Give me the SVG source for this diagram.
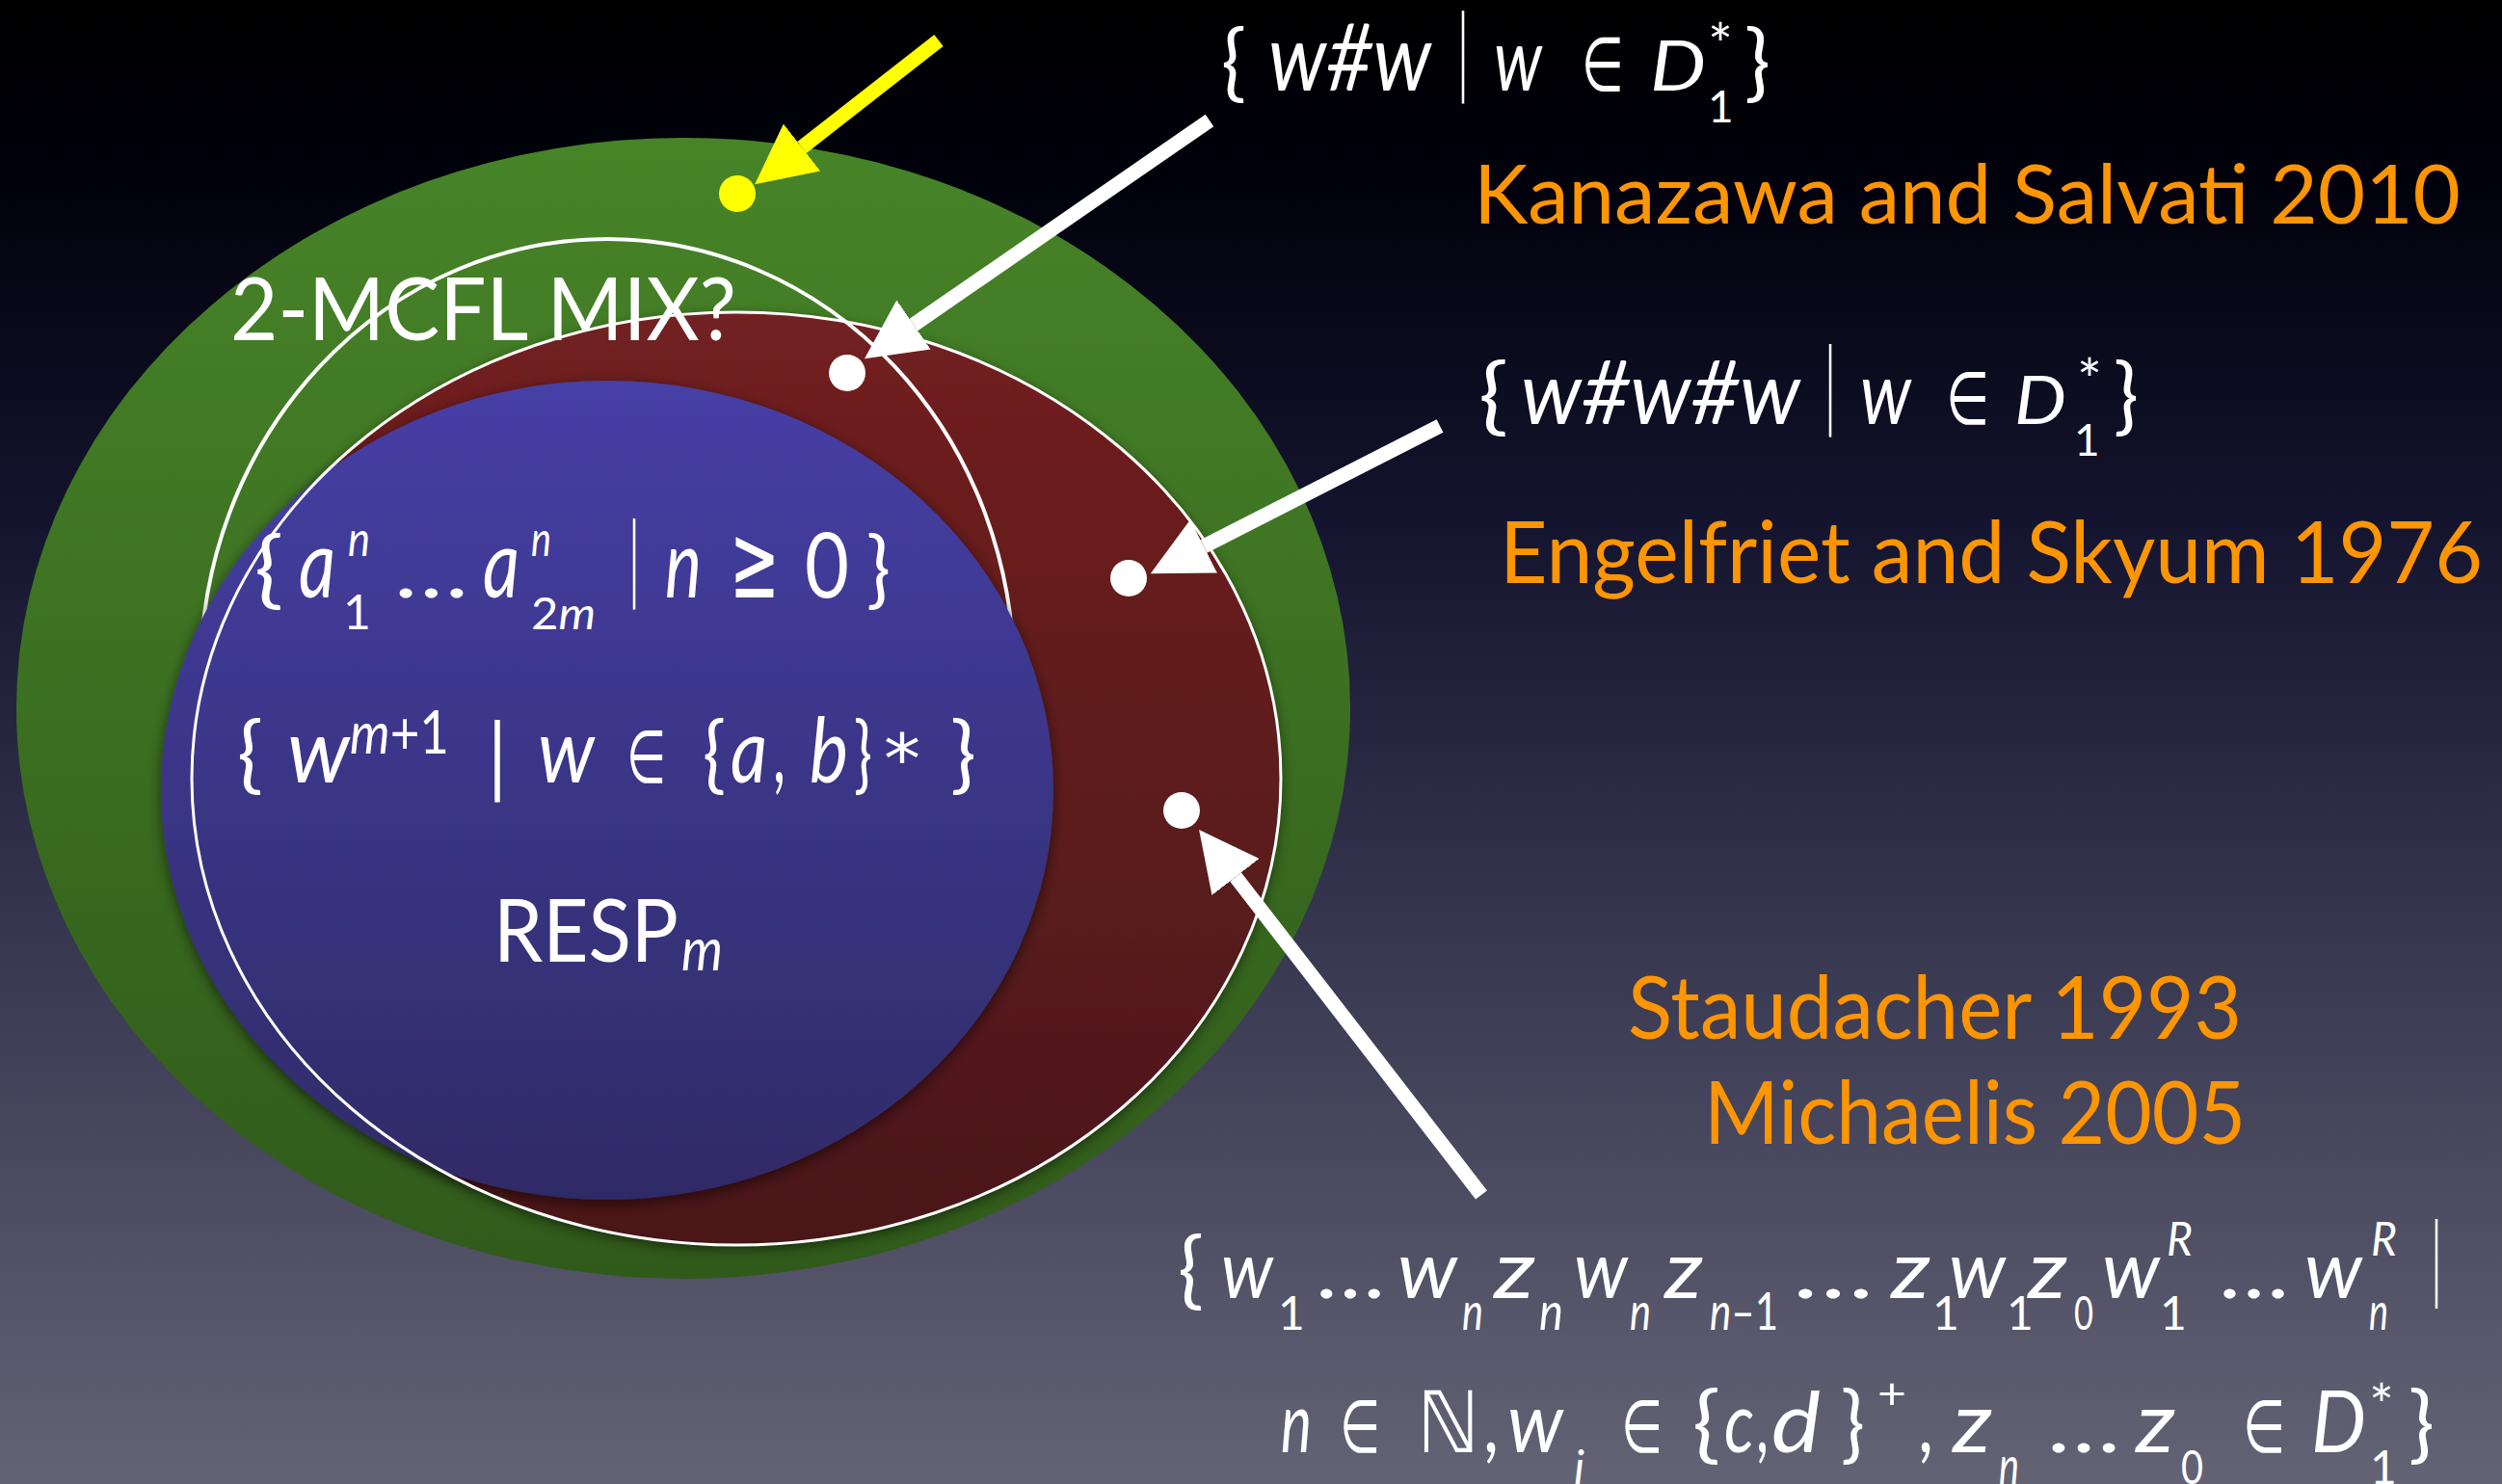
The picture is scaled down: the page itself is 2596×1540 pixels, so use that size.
<svg xmlns="http://www.w3.org/2000/svg" width="2596" height="1540" viewBox="0 0 2596 1540">
<defs>
<linearGradient id="bgG" x1="0" y1="0" x2="0" y2="1">
<stop offset="0" stop-color="#000000"/>
<stop offset="0.12" stop-color="#01010c"/>
<stop offset="0.35" stop-color="#14142e"/>
<stop offset="0.6" stop-color="#33334d"/>
<stop offset="1" stop-color="#646375"/>
</linearGradient>
<linearGradient id="grG" x1="0" y1="0" x2="0" y2="1">
<stop offset="0" stop-color="#478428"/>
<stop offset="1" stop-color="#305a1a"/>
</linearGradient>
<linearGradient id="rdG" x1="0" y1="0" x2="0" y2="1">
<stop offset="0" stop-color="#722020"/>
<stop offset="1" stop-color="#4a1719"/>
</linearGradient>
<linearGradient id="blG" x1="0" y1="0" x2="0" y2="1">
<stop offset="0" stop-color="#463fa6"/>
<stop offset="1" stop-color="#2f2b66"/>
</linearGradient>
<filter id="sh" x="-10%" y="-10%" width="120%" height="120%">
<feDropShadow dx="0" dy="4" stdDeviation="7" flood-color="#000" flood-opacity="0.55"/>
</filter>
<marker id="hw" markerUnits="userSpaceOnUse" viewBox="0 0 62 62" markerWidth="62" markerHeight="62" refX="0" refY="31" orient="auto">
<path d="M0,0 L62,31 L0,62 Z" fill="#ffffff"/>
</marker>
<marker id="hy" markerUnits="userSpaceOnUse" viewBox="0 0 62 62" markerWidth="62" markerHeight="62" refX="0" refY="31" orient="auto">
<path d="M0,0 L62,31 L0,62 Z" fill="#ffff00"/>
</marker>
</defs>
<style>
.t{font-family:Lato,"DejaVu Sans",sans-serif;fill:#fff}
.i{font-style:italic}
.s{font-family:"DejaVu Sans",sans-serif;fill:#fff}
.o{font-family:Lato,"DejaVu Sans",sans-serif;fill:#ff9500}
.wl{stroke:#fff;stroke-width:15;fill:none}
.yl{stroke:#ffff00;stroke-width:15;fill:none}
.dot{fill:#fff}
</style>
<rect id="bg" x="0" y="0" width="2596" height="1540" fill="url(#bgG)"/>

<g id="region-green"><ellipse cx="709" cy="735" rx="692" ry="592" fill="url(#grG)"/></g>
<g id="region-red"><ellipse cx="764" cy="808" rx="565" ry="484" fill="url(#rdG)" filter="url(#sh)"/></g>
<g id="region-2mcfl"><ellipse cx="630" cy="700" rx="422" ry="452" fill="none" stroke="#fff" stroke-width="4"/></g>
<g id="region-blue"><ellipse cx="630" cy="820" rx="463" ry="425" fill="url(#blG)" filter="url(#sh)"/></g>
<g id="region-red-outline"><ellipse cx="764" cy="808" rx="565" ry="484" fill="none" stroke="#fff" stroke-width="3"/></g>

<g id="label-2mcfl"><text class="t" x="239" y="353" font-size="91" textLength="525" lengthAdjust="spacingAndGlyphs">2-MCFL MIX?</text></g>

<g id="label-an">
<text class="t" x="264" y="620" font-size="88" textLength="30" lengthAdjust="spacingAndGlyphs">{</text>
<text class="t i" x="310" y="620" font-size="99" textLength="38" lengthAdjust="spacingAndGlyphs">a</text>
<text class="t i" x="361" y="577" font-size="50" textLength="23" lengthAdjust="spacingAndGlyphs">n</text>
<text class="t" x="356" y="653" font-size="50">1</text>
<text class="t" x="409" y="620" font-size="80" textLength="77" lengthAdjust="spacingAndGlyphs">…</text>
<text class="t i" x="501" y="620" font-size="99" textLength="38" lengthAdjust="spacingAndGlyphs">a</text>
<text class="t i" x="551" y="577" font-size="50" textLength="21" lengthAdjust="spacingAndGlyphs">n</text>
<text class="t" x="551" y="653" font-size="46" textLength="67" lengthAdjust="spacingAndGlyphs">2<tspan class="i">m</tspan></text>
<text class="s" x="653" y="610" font-size="95" textLength="10" lengthAdjust="spacingAndGlyphs">|</text>
<text class="t i" x="690" y="620" font-size="99" textLength="38" lengthAdjust="spacingAndGlyphs">n</text>
<text class="s" x="757" y="620" font-size="108" textLength="52" lengthAdjust="spacingAndGlyphs">≥</text>
<text class="t" x="835" y="620" font-size="93" textLength="46" lengthAdjust="spacingAndGlyphs">0</text>
<text class="t" x="899" y="620" font-size="88" textLength="25" lengthAdjust="spacingAndGlyphs">}</text>
</g>

<g id="label-wm">
<text class="t" x="246" y="812" font-size="88" textLength="27" lengthAdjust="spacingAndGlyphs">{</text>
<text class="t i" x="298" y="812" font-size="93" textLength="65" lengthAdjust="spacingAndGlyphs">w</text>
<text class="t" x="363" y="782" font-size="61" textLength="103" lengthAdjust="spacingAndGlyphs"><tspan class="i">m</tspan>+1</text>
<text class="s" x="505" y="812" font-size="85" textLength="22" lengthAdjust="spacingAndGlyphs">|</text>
<text class="t i" x="558" y="812" font-size="93" textLength="59" lengthAdjust="spacingAndGlyphs">w</text>
<text class="s" x="650" y="812" font-size="76" textLength="41" lengthAdjust="spacingAndGlyphs">∈</text>
<text class="t" x="729" y="812" font-size="88" textLength="24" lengthAdjust="spacingAndGlyphs">{</text>
<text class="t i" x="758" y="812" font-size="93" textLength="38" lengthAdjust="spacingAndGlyphs">a</text>
<text class="t" x="802" y="812" font-size="93" textLength="13" lengthAdjust="spacingAndGlyphs">,</text>
<text class="t i" x="840" y="812" font-size="93" textLength="40" lengthAdjust="spacingAndGlyphs">b</text>
<text class="t" x="886" y="812" font-size="88" textLength="19" lengthAdjust="spacingAndGlyphs">}</text>
<text class="s" x="917" y="812" font-size="72" textLength="38" lengthAdjust="spacingAndGlyphs">*</text>
<text class="t" x="986" y="812" font-size="88" textLength="27" lengthAdjust="spacingAndGlyphs">}</text>
</g>

<g id="label-resp">
<text class="t" x="512" y="998" font-size="91" textLength="192" lengthAdjust="spacingAndGlyphs">RESP</text>
<text class="t i" x="707" y="1007" font-size="63" textLength="43" lengthAdjust="spacingAndGlyphs">m</text>
</g>

<g id="label-wsharpw">
<text class="t" x="1267" y="94" font-size="88" textLength="26" lengthAdjust="spacingAndGlyphs">{</text>
<text class="t i" x="1316" y="94" font-size="97" textLength="169" lengthAdjust="spacingAndGlyphs">w#w</text>
<text class="s" x="1513" y="84" font-size="96" textLength="10" lengthAdjust="spacingAndGlyphs">|</text>
<text class="t i" x="1550" y="94" font-size="92" textLength="50" lengthAdjust="spacingAndGlyphs">w</text>
<text class="s" x="1641" y="94" font-size="78" textLength="44" lengthAdjust="spacingAndGlyphs">∈</text>
<text class="t i" x="1712" y="94" font-size="72" textLength="58" lengthAdjust="spacingAndGlyphs">D</text>
<text class="t" x="1772" y="68" font-size="60" textLength="26" lengthAdjust="spacingAndGlyphs">*</text>
<text class="t" x="1772" y="127" font-size="46">1</text>
<text class="t" x="1810" y="94" font-size="88" textLength="27" lengthAdjust="spacingAndGlyphs">}</text>
</g>

<g id="label-kanazawa"><text class="o" x="1529" y="232" font-size="86" textLength="1024" lengthAdjust="spacingAndGlyphs">Kanazawa and Salvati 2010</text></g>

<g id="label-wsharpwsharpw">
<text class="t" x="1534" y="440" font-size="88" textLength="31" lengthAdjust="spacingAndGlyphs">{</text>
<text class="t i" x="1578" y="440" font-size="92" textLength="290" lengthAdjust="spacingAndGlyphs">w#w#w</text>
<text class="s" x="1894" y="430" font-size="96" textLength="10" lengthAdjust="spacingAndGlyphs">|</text>
<text class="t i" x="1930" y="440" font-size="92" textLength="53" lengthAdjust="spacingAndGlyphs">w</text>
<text class="s" x="2019" y="440" font-size="76" textLength="45" lengthAdjust="spacingAndGlyphs">∈</text>
<text class="t i" x="2090" y="440" font-size="70" textLength="54" lengthAdjust="spacingAndGlyphs">D</text>
<text class="t" x="2155" y="416" font-size="60" textLength="26" lengthAdjust="spacingAndGlyphs">*</text>
<text class="t" x="2152" y="473" font-size="46">1</text>
<text class="t" x="2193" y="440" font-size="88" textLength="26" lengthAdjust="spacingAndGlyphs">}</text>
</g>

<g id="label-engelfriet"><text class="o" x="1556" y="605" font-size="90" textLength="1020" lengthAdjust="spacingAndGlyphs">Engelfriet and Skyum 1976</text></g>

<g id="label-staudacher">
<text class="o" x="1689" y="1078" font-size="92" textLength="637" lengthAdjust="spacingAndGlyphs">Staudacher 1993</text>
<text class="o" x="1768" y="1187" font-size="92" textLength="562" lengthAdjust="spacingAndGlyphs">Michaelis 2005</text>
</g>

<g id="label-staudacher-lang">
<text class="t" x="1222" y="1347" font-size="88" textLength="27" lengthAdjust="spacingAndGlyphs">{</text>
<text class="t i" x="1267" y="1347" font-size="83" textLength="54" lengthAdjust="spacingAndGlyphs">w</text>
<text class="t" x="1326" y="1380" font-size="48">1</text>
<text class="t" x="1365" y="1347" font-size="80" textLength="72" lengthAdjust="spacingAndGlyphs">…</text>
<text class="t i" x="1450" y="1347" font-size="83" textLength="62" lengthAdjust="spacingAndGlyphs">w</text>
<text class="t i" x="1517" y="1380" font-size="54" textLength="22" lengthAdjust="spacingAndGlyphs">n</text>
<text class="t i" x="1550" y="1347" font-size="83" textLength="43" lengthAdjust="spacingAndGlyphs">z</text>
<text class="t i" x="1597" y="1380" font-size="54" textLength="25" lengthAdjust="spacingAndGlyphs">n</text>
<text class="t i" x="1633" y="1347" font-size="83" textLength="56" lengthAdjust="spacingAndGlyphs">w</text>
<text class="t i" x="1691" y="1380" font-size="54" textLength="22" lengthAdjust="spacingAndGlyphs">n</text>
<text class="t i" x="1727" y="1347" font-size="83" textLength="40" lengthAdjust="spacingAndGlyphs">z</text>
<text class="t" x="1774" y="1380" font-size="54" textLength="71" lengthAdjust="spacingAndGlyphs"><tspan class="i">n</tspan>–1</text>
<text class="t" x="1860" y="1347" font-size="80" textLength="84" lengthAdjust="spacingAndGlyphs">…</text>
<text class="t i" x="1962" y="1347" font-size="83" textLength="41" lengthAdjust="spacingAndGlyphs">z</text>
<text class="t" x="2005" y="1380" font-size="48">1</text>
<text class="t i" x="2022" y="1347" font-size="83" textLength="59" lengthAdjust="spacingAndGlyphs">w</text>
<text class="t" x="2082" y="1380" font-size="48">1</text>
<text class="t i" x="2104" y="1347" font-size="83" textLength="41" lengthAdjust="spacingAndGlyphs">z</text>
<text class="t" x="2152" y="1380" font-size="48" textLength="20" lengthAdjust="spacingAndGlyphs">0</text>
<text class="t i" x="2181" y="1347" font-size="83" textLength="60" lengthAdjust="spacingAndGlyphs">w</text>
<text class="t i" x="2248" y="1303" font-size="49" textLength="27" lengthAdjust="spacingAndGlyphs">R</text>
<text class="t" x="2241" y="1380" font-size="48">1</text>
<text class="t" x="2302" y="1347" font-size="80" textLength="73" lengthAdjust="spacingAndGlyphs">…</text>
<text class="t i" x="2391" y="1347" font-size="83" textLength="60" lengthAdjust="spacingAndGlyphs">w</text>
<text class="t i" x="2460" y="1303" font-size="49" textLength="27" lengthAdjust="spacingAndGlyphs">R</text>
<text class="t i" x="2458" y="1380" font-size="54" textLength="20" lengthAdjust="spacingAndGlyphs">n</text>
<text class="s" x="2523" y="1336" font-size="93" textLength="10" lengthAdjust="spacingAndGlyphs">|</text>
<text class="t i" x="1329" y="1507" font-size="87" textLength="32" lengthAdjust="spacingAndGlyphs">n</text>
<text class="s" x="1390" y="1507" font-size="76" textLength="42" lengthAdjust="spacingAndGlyphs">∈</text>
<text class="s" x="1470" y="1507" font-size="88" textLength="65" lengthAdjust="spacingAndGlyphs">ℕ</text>
<text class="t" x="1539" y="1507" font-size="87" textLength="16" lengthAdjust="spacingAndGlyphs">,</text>
<text class="t i" x="1564" y="1507" font-size="87" textLength="58" lengthAdjust="spacingAndGlyphs">w</text>
<text class="t i" x="1633" y="1540" font-size="48">i</text>
<text class="s" x="1682" y="1507" font-size="76" textLength="43" lengthAdjust="spacingAndGlyphs">∈</text>
<text class="t" x="1756" y="1507" font-size="88" textLength="29" lengthAdjust="spacingAndGlyphs">{</text>
<text class="t i" x="1789" y="1507" font-size="87" textLength="31" lengthAdjust="spacingAndGlyphs">c</text>
<text class="t" x="1822" y="1507" font-size="87" textLength="13" lengthAdjust="spacingAndGlyphs">,</text>
<text class="t i" x="1838" y="1507" font-size="87" textLength="51" lengthAdjust="spacingAndGlyphs">d</text>
<text class="t" x="1910" y="1507" font-size="88" textLength="25" lengthAdjust="spacingAndGlyphs">}</text>
<text class="t" x="1948" y="1462" font-size="45" textLength="30" lengthAdjust="spacingAndGlyphs">+</text>
<text class="t" x="1990" y="1507" font-size="87" textLength="16" lengthAdjust="spacingAndGlyphs">,</text>
<text class="t i" x="2026" y="1507" font-size="87" textLength="41" lengthAdjust="spacingAndGlyphs">z</text>
<text class="t i" x="2074" y="1540" font-size="54" textLength="21" lengthAdjust="spacingAndGlyphs">n</text>
<text class="t" x="2124" y="1507" font-size="80" textLength="76" lengthAdjust="spacingAndGlyphs">…</text>
<text class="t i" x="2216" y="1507" font-size="87" textLength="41" lengthAdjust="spacingAndGlyphs">z</text>
<text class="t" x="2263" y="1540" font-size="48" textLength="23" lengthAdjust="spacingAndGlyphs">0</text>
<text class="s" x="2327" y="1507" font-size="76" textLength="44" lengthAdjust="spacingAndGlyphs">∈</text>
<text class="t i" x="2398" y="1507" font-size="90" textLength="57" lengthAdjust="spacingAndGlyphs">D</text>
<text class="t" x="2458" y="1480" font-size="60" textLength="26" lengthAdjust="spacingAndGlyphs">*</text>
<text class="t" x="2459" y="1540" font-size="48">1</text>
<text class="t" x="2499" y="1507" font-size="88" textLength="27" lengthAdjust="spacingAndGlyphs">}</text>
</g>

<g id="connectors">
<line class="yl" x1="974" y1="42" x2="832" y2="153" marker-end="url(#hy)"/>
<line class="wl" x1="1255" y1="125" x2="948" y2="337" marker-end="url(#hw)"/>
<line class="wl" x1="1494" y1="442" x2="1249" y2="567" marker-end="url(#hw)"/>
<line class="wl" x1="1537" y1="1240" x2="1282" y2="910" marker-end="url(#hw)"/>
</g>

<g id="point-mix"><circle cx="765" cy="201" r="19" fill="#ffff00"/></g>
<g id="point-wsharpw"><circle class="dot" cx="879" cy="387" r="19"/></g>
<g id="point-wsharpwsharpw"><circle class="dot" cx="1171" cy="600" r="19"/></g>
<g id="point-staudacher"><circle class="dot" cx="1226" cy="841" r="19"/></g>
</svg>
